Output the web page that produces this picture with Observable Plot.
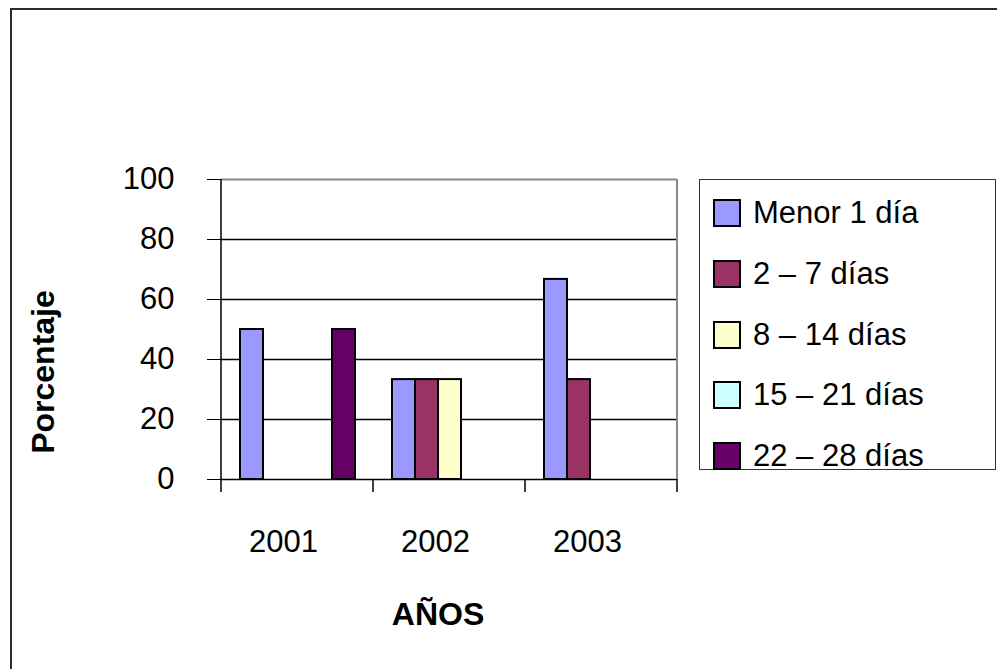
<!DOCTYPE html>
<html>
<head>
<meta charset="utf-8">
<script src="https://cdn.jsdelivr.net/npm/d3@7"></script>
<script src="https://cdn.jsdelivr.net/npm/@observablehq/plot@0.6"></script>
<style>
  html, body { margin: 0; padding: 0; background: #fff; }
  #wrap { position: relative; width: 997px; height: 669px; overflow: hidden; background: #fff;
          font-family: 'Liberation Sans', Arial, sans-serif; color: #000; }
  #outer { position: absolute; left: 10px; top: 8px; width: 1200px; height: 1000px;
           border-top: 2px solid #2a2a2a; border-left: 2px solid #2a2a2a; }
  #chart { position: absolute; left: 0; top: 0; }
  #legend { position: absolute; left: 699px; top: 179px; width: 297px; height: 291px;
            border: 1px solid #333; box-sizing: border-box; background: #fff; }
  .item { position: absolute; left: 13px; height: 30px; display: flex; align-items: center;
          font-size: 31px; white-space: nowrap; }
  .sw { width: 24px; height: 24px; border: 2px solid #000; margin-right: 12px; flex: none; }
</style>
</head>
<body>
<div id="wrap">
  <div id="outer"></div>
  <div id="chart"></div>
  <div id="legend"></div>
</div>
<script>
// ---- data ----
const years = ["2001", "2002", "2003"];
const series = ["Menor 1 día", "2 – 7 días", "8 – 14 días", "15 – 21 días", "22 – 28 días"];
const menor1Dia = [50, 33.3, 66.7];
const dias2a7 = [0, 33.3, 33.3];
const dias8a14 = [0, 33.3, 0];
const dias15a21 = [0, 0, 0];
const dias22a28 = [50, 0, 0];
const yTicks = [0, 20, 40, 60, 80, 100];
const colors = ["#9999FF", "#993366", "#FFFFCC", "#CCFFFF", "#660066"];
const xTitle = "AÑOS";
const yTitle = "Porcentaje";

const seriesValues = [menor1Dia, dias2a7, dias8a14, dias15a21, dias22a28];
const rows = [];
years.forEach((yr, i) => {
  series.forEach((s, j) => {
    const v = seriesValues[j][i];
    if (v > 0) rows.push({ year: yr, series: s, value: v });
  });
});

const chart = Plot.plot({
  width: 997,
  height: 669,
  marginLeft: 221,
  marginRight: 320,
  marginTop: 179,
  marginBottom: 190,
  style: { fontFamily: "'Liberation Sans', Arial, sans-serif", fontSize: "31px", color: "#000", background: "transparent", overflow: "visible" },
  fx: { domain: years, padding: 0, label: null },
  x: { domain: series, paddingInner: 0, paddingOuter: 0.8, axis: null },
  y: { domain: [0, 100], ticks: yTicks, tickSize: 14, tickPadding: 33, label: null },
  color: { domain: series, range: colors },
  marks: [
    Plot.axisFx({ anchor: "bottom", tickSize: 0, tickPadding: 50, dx: -14, label: null, fontSize: 31 }),
    Plot.ruleY(yTicks.filter(t => t > 0 && t < 100), { stroke: "#000", strokeWidth: 1.3 }),
    Plot.ruleY([100], { stroke: "#8a8a8a", strokeWidth: 2 }),
    Plot.barY(rows, { fx: "year", x: "series", y: "value", fill: "series", stroke: "#000", strokeWidth: 2 }),
    Plot.ruleY([0], { stroke: "#000", strokeWidth: 1.5 })
  ]
});
document.getElementById("chart").appendChild(chart);

// extra axis lines and boundary ticks from Plot's own scales
const svg = d3.select(chart);
const fx = chart.scale("fx");
const ys = chart.scale("y");
const y0 = ys.apply(0), y100 = ys.apply(100);
const bounds = years.map(d => fx.apply(d)).concat([fx.apply(years[years.length - 1]) + fx.bandwidth]);
const left = bounds[0], right = bounds[bounds.length - 1];
const g = svg.append("g");
g.append("line").attr("x1", right).attr("x2", right).attr("y1", y100).attr("y2", y0)
  .attr("stroke", "#8a8a8a").attr("stroke-width", 2);
g.append("line").attr("x1", left).attr("x2", left).attr("y1", y100).attr("y2", y0)
  .attr("stroke", "#000").attr("stroke-width", 1.5);
bounds.forEach(b => {
  g.append("line").attr("x1", b).attr("x2", b).attr("y1", y0).attr("y2", y0 + 13)
    .attr("stroke", "#000").attr("stroke-width", 1.5);
});
// axis titles
g.append("text").text(xTitle)
  .attr("x", (left + right) / 2 - 11).attr("y", 625)
  .attr("text-anchor", "middle").attr("font-weight", "bold").attr("font-size", 32);
g.append("text").text(yTitle)
  .attr("transform", `translate(54,${(y0 + y100) / 2 + 43}) rotate(-90)`)
  .attr("text-anchor", "middle").attr("font-weight", "bold").attr("font-size", 32);

// legend
const legend = document.getElementById("legend");
series.forEach((s, i) => {
  const item = document.createElement("div");
  item.className = "item";
  item.style.top = (33 + i * 60.75 - 15) + "px";
  const sw = document.createElement("div");
  sw.className = "sw";
  sw.style.background = colors[i];
  const t = document.createElement("span");
  t.textContent = s;
  item.appendChild(sw);
  item.appendChild(t);
  legend.appendChild(item);
});
</script>
</body>
</html>
